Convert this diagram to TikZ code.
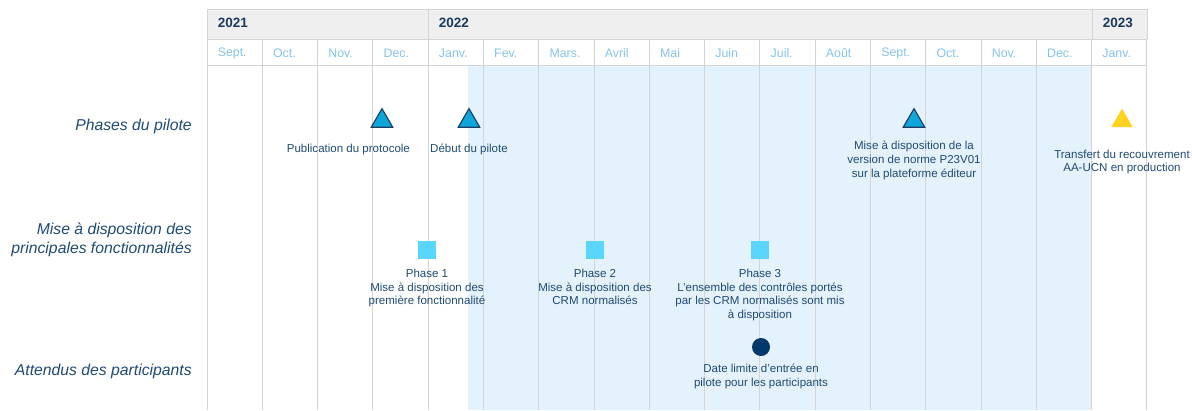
\documentclass[tikz,border=0pt]{standalone}
\usepackage{fontspec}
\setmainfont{Liberation Sans}
\usetikzlibrary{positioning,shapes.geometric}

\definecolor{navy}{HTML}{1F4A75}
\definecolor{yearnavy}{HTML}{1B3A5C}
\definecolor{monthblue}{HTML}{84C3EE}
\definecolor{pilotbg}{HTML}{E4F2FD}
\definecolor{headbg}{HTML}{EFEFEF}
\definecolor{gridgray}{HTML}{D4D4D4}
\definecolor{jalonblue}{HTML}{0FA6DC}
\definecolor{jalonedge}{HTML}{1B3F60}
\definecolor{jalonyellow}{HTML}{FFD21F}
\definecolor{phasecyan}{HTML}{5AD5FC}
\definecolor{deadline}{HTML}{00386A}

\tikzset{
	gridline/.style={draw=gridgray, line width=0.7pt},
	year/.style={anchor=west, inner sep=0, text=yearnavy, font=\fontsize{9.6}{11}\selectfont\bfseries},
	month/.style={anchor=west, inner sep=0, text=monthblue, font=\fontsize{8.8}{10}\selectfont},
	rowlbl/.style={anchor=east, align=right, inner sep=0, text=navy, font=\fontsize{11.2}{13.1}\selectfont\itshape},
	jalon/.style={regular polygon, regular polygon sides=3, minimum size=0.62cm, inner sep=0, fill=jalonblue, draw=jalonedge, line width=0.8pt},
	livraison/.style={rectangle, minimum size=0.45cm, inner sep=0, fill=phasecyan},
	echeance/.style={circle, minimum size=0.45cm, inner sep=0, fill=deadline},
	jalonlbl/.style={align=center, inner sep=0, text=navy, execute at begin node=\rule{0pt}{1em}}
}

\begin{document}
\begin{tikzpicture}[x=0.025cm, y=-0.025cm, node distance=0.33cm, font=\fontsize{8.2}{9.9}\selectfont]
	\useasboundingbox (0,0) rectangle (1192,410);
	% pilot period
	\fill[pilotbg] (468,65) rectangle (1092,410);
	% header
	\fill[headbg] (207,9) rectangle (1147,39);
	\draw[gridline] (207,9) -- (1147,9) (207,39) -- (1147,39) (207,65) -- (1147,65);
	\foreach \x in {207,428,1092,1147}
		\draw[gridline] (\x,9) -- (\x,39);
	\foreach \i in {0,...,17}
		\draw[gridline] ({207+55.29*\i},39) -- ({207+55.29*\i},410);
	\node[year] (y2021) at (217.5,23) {2021};
	\node[year] (y2022) at (438.5,23) {2022};
	\node[year] (y2023) at (1102.5,23) {2023};
	\foreach \m [count=\i from 0] in {Sept.,Oct.,Nov.,Dec.,Janv.,Fev.,Mars.,Avril,Mai,Juin,Juil.,Août,Sept.,Oct.,Nov.,Dec.,Janv.}
		\node[month] (m\i) at ({217.5+55.29*\i},53) {\m};

	\node[rowlbl] (phases) at (192,126) {Phases du pilote};
	\node[rowlbl] (fonctions) at (192,240) {Mise à disposition des\\principales fonctionnalités};
	\node[rowlbl] (attendus) at (192,371) {Attendus des participants};

	\node[jalon] (protocole) at (382,121) {};
	\node[jalonlbl, below=of protocole, xshift=-0.84cm] (protocolelbl) {Publication du protocole};
	\node[jalon] (debut) at (469,121) {};
	\node[jalonlbl, below=of debut] (debutlbl) {Début du pilote};
	\node[jalon] (norme) at (914,121) {};
	\node[jalonlbl, below=of norme] (normelbl) {Mise à disposition de la\\version de norme P23V01\\sur la plateforme éditeur};
	\node[jalon, fill=jalonyellow, draw=none] (transfert) at (1122,121) {};
	\node[jalonlbl, below=0.54cm of transfert] (transfertlbl) {Transfert du recouvrement\\AA-UCN en production};

	\node[livraison] (phase1) at (427,250) {};
	\node[jalonlbl, below=0.23cm of phase1] (phase1lbl) {Phase 1\\Mise à disposition des\\première fonctionnalité};
	\node[livraison] (phase2) at (595,250) {};
	\node[jalonlbl, below=0.23cm of phase2] (phase2lbl) {Phase 2\\Mise à disposition des\\CRM normalisés};
	\node[livraison] (phase3) at (760,250) {};
	\node[jalonlbl, below=0.23cm of phase3] (phase3lbl) {Phase 3\\L’ensemble des contrôles portés\\par les CRM normalisés sont mis\\à disposition};

	\node[echeance] (limite) at (761,347) {};
	\node[jalonlbl, below=0.18cm of limite] (limitelbl) {Date limite d’entrée en\\pilote pour les participants};
\end{tikzpicture}
\end{document}
